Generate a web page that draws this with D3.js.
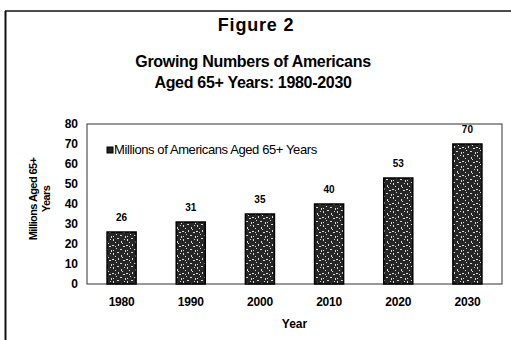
<!DOCTYPE html>
<html>
<head>
<meta charset="utf-8">
<script src="https://cdn.jsdelivr.net/npm/d3@7"></script>
<style>
  body { margin: 0; background: #fff; }
  svg { display: block; font-family: "Liberation Sans", Arial, sans-serif; }
</style>
</head>
<body>
<div class="main"></div>
<script>
    //Data
    const years = ['1980', '1990', '2000', '2010', '2020', '2030'];
    const millions = [26, 31, 35, 40, 53, 70];
    const valueLabels = ['26', '31', '35', '40', '53', '70'];
    const yTicks = [0, 10, 20, 30, 40, 50, 60, 70, 80];
    const titleLines = ['Growing Numbers of Americans', 'Aged 65+ Years: 1980-2030'];
    const legendLabel = 'Millions of Americans Aged 65+ Years';

    //Variables
    const width = 511,
          height = 340,
          plot = {left: 87, right: 502, top: 124, bottom: 284};

    //Create Canvas
    const svg = d3.select('.main')
                  .append('svg')
                  .attr('width', width)
                  .attr('height', height)
                  .style('background', '#fff');

    //Speckled fill for the bars
    const pat = svg.append('defs').append('pattern')
                   .attr('id', 'speckle')
                   .attr('patternUnits', 'userSpaceOnUse')
                   .attr('width', 14)
                   .attr('height', 14);
    pat.append('rect').attr('width', 14).attr('height', 14).attr('fill', '#262626');
    [[1, 1, 1, 2], [5, 0, 2, 1], [3, 4, 1, 1], [9, 3, 1, 2], [12, 1, 1, 1], [0, 7, 2, 1],
     [6, 6, 1, 2], [11, 8, 2, 1], [4, 10, 1, 1], [8, 11, 2, 1], [1, 12, 1, 1], [13, 12, 1, 2],
     [10, 5, 1, 1], [3, 8, 1, 1]]
      .forEach(s => pat.append('rect')
                       .attr('x', s[0]).attr('y', s[1])
                       .attr('width', s[2]).attr('height', s[3])
                       .attr('fill', '#d8d8d8'));

    //Outer frame
    svg.append('line').attr('x1', 5).attr('x2', 511).attr('y1', 11).attr('y2', 11)
       .attr('stroke', '#111').attr('stroke-width', 1.5);
    svg.append('line').attr('x1', 5.5).attr('x2', 5.5).attr('y1', 11).attr('y2', 340)
       .attr('stroke', '#111').attr('stroke-width', 2);

    //Titles
    svg.append('text')
       .attr('x', 256).attr('y', 31)
       .attr('text-anchor', 'middle')
       .style('font-size', '18px').style('font-weight', 'bold')
       .style('letter-spacing', '0.8px')
       .text('Figure 2');
    svg.selectAll('.title-line')
       .data(titleLines)
       .enter()
       .append('text')
       .attr('class', 'title-line')
       .attr('x', 253)
       .attr('y', (d, i) => 67 + i * 21)
       .attr('text-anchor', 'middle')
       .style('font-size', '16px').style('font-weight', 'bold')
       .style('letter-spacing', '-0.3px')
       .text(d => d);

    //Create Scales
    const xScale = d3.scaleBand()
                     .domain(years)
                     .range([plot.left, plot.right])
                     .paddingInner(0.58)
                     .paddingOuter(0.29);

    const yScale = d3.scaleLinear()
                     .domain([0, 80])
                     .range([plot.bottom, plot.top]);

    //Plot frame
    svg.append('rect')
       .attr('x', plot.left).attr('y', plot.top)
       .attr('width', plot.right - plot.left)
       .attr('height', plot.bottom - plot.top)
       .attr('fill', 'none')
       .attr('stroke', '#333')
       .attr('stroke-width', 1);

    //Create Axes
    const yAxis = svg.append('g')
                     .attr('transform', `translate(${plot.left}, 0)`)
                     .call(d3.axisLeft(yScale).tickValues(yTicks).tickSize(0).tickPadding(9));
    yAxis.select('.domain').remove();
    yAxis.selectAll('text')
         .style('font-size', '12px').style('font-weight', 'bold')
         .style('font-family', '"Liberation Sans", Arial, sans-serif')
         .attr('fill', '#000');

    const xAxis = svg.append('g')
                     .attr('transform', `translate(0, ${plot.bottom})`)
                     .call(d3.axisBottom(xScale).tickSize(0).tickPadding(13.5));
    xAxis.select('.domain').remove();
    xAxis.selectAll('text')
         .style('font-size', '12px').style('font-weight', 'bold')
         .style('font-family', '"Liberation Sans", Arial, sans-serif')
         .style('letter-spacing', '-0.2px')
         .attr('fill', '#000');

    //Axis titles
    svg.append('text')
       .attr('x', (plot.left + plot.right) / 2)
       .attr('y', 328)
       .attr('text-anchor', 'middle')
       .style('font-size', '12px').style('font-weight', 'bold')
       .text('Year');

    const yTitle = svg.append('text')
                      .attr('transform', 'translate(37, 199) rotate(-90)')
                      .attr('text-anchor', 'middle')
                      .style('font-size', '11px').style('font-weight', 'bold')
                      .style('letter-spacing', '-0.6px');
    yTitle.append('tspan').attr('x', 0).attr('y', 0).text('Millions Aged 65+');
    yTitle.append('tspan').attr('x', 0).attr('y', 13).text('Years');

    //Create Bars
    svg.selectAll('.bar')
       .data(millions)
       .enter()
       .append('rect')
       .attr('class', 'bar')
       .attr('x', (d, i) => xScale(years[i]))
       .attr('y', d => yScale(d))
       .attr('width', xScale.bandwidth())
       .attr('height', d => plot.bottom - yScale(d))
       .attr('fill', 'url(#speckle)')
       .attr('stroke', '#000')
       .attr('stroke-width', 1.5);

    //Value labels
    svg.selectAll('.value')
       .data(millions)
       .enter()
       .append('text')
       .attr('class', 'value')
       .attr('x', (d, i) => xScale(years[i]) + xScale.bandwidth() / 2)
       .attr('y', d => yScale(d) - 11)
       .attr('text-anchor', 'middle')
       .style('font-size', '10px').style('font-weight', 'bold')
       .text((d, i) => valueLabels[i]);

    //Legend
    svg.append('rect')
       .attr('x', 107).attr('y', 147)
       .attr('width', 6).attr('height', 6)
       .attr('fill', '#222').attr('stroke', '#000');
    svg.append('text')
       .attr('x', 114).attr('y', 154)
       .style('font-size', '13px')
       .style('letter-spacing', '-0.4px')
       .text(legendLabel);
</script>
</body>
</html>
